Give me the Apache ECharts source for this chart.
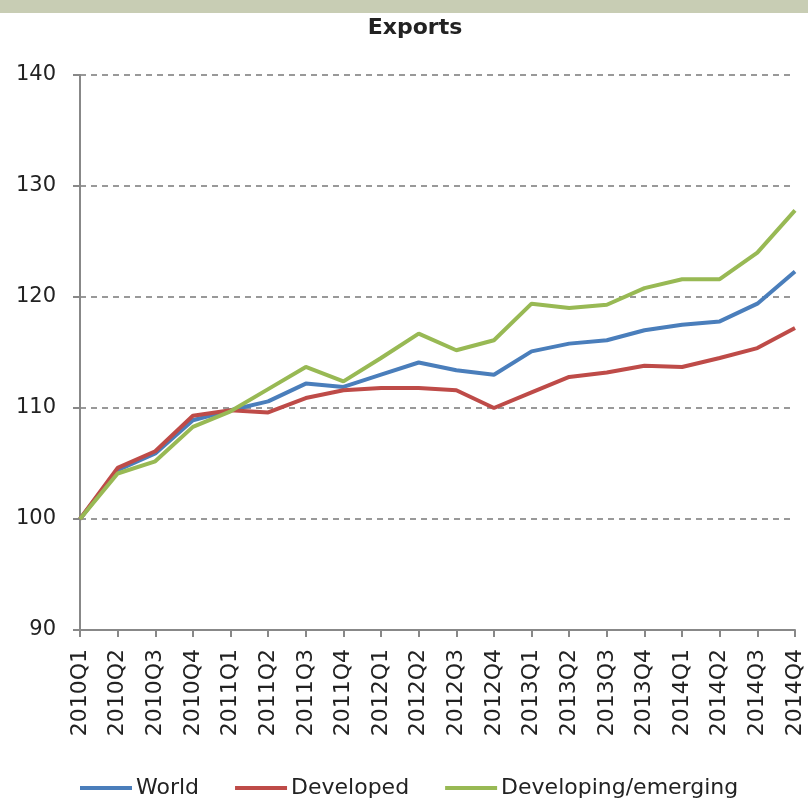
<!DOCTYPE html>
<html>
<head>
<meta charset="utf-8">
<script src="https://cdn.jsdelivr.net/npm/echarts@6/dist/echarts.min.js"></script>
<style>
  html, body { margin: 0; padding: 0; background: #fff; }
  #main { width: 808px; height: 807px; }
</style>
</head>
<body>
<div id="main"></div>
<script>
// quarters on the x axis
const quarters = [
  "2010Q1", "2010Q2", "2010Q3", "2010Q4",
  "2011Q1", "2011Q2", "2011Q3", "2011Q4",
  "2012Q1", "2012Q2", "2012Q3", "2012Q4",
  "2013Q1", "2013Q2", "2013Q3", "2013Q4",
  "2014Q1", "2014Q2", "2014Q3", "2014Q4"
];
// index, 2010Q1 = 100
const world = [100, 104.4, 105.9, 108.9, 109.8, 110.6, 112.2, 111.9, 113.0, 114.1, 113.4, 113.0, 115.1, 115.8, 116.1, 117.0, 117.5, 117.8, 119.4, 122.3];
const developed = [100, 104.6, 106.1, 109.3, 109.8, 109.6, 110.9, 111.6, 111.8, 111.8, 111.6, 110.0, 111.4, 112.8, 113.2, 113.8, 113.7, 114.5, 115.4, 117.2];
const developing = [100, 104.1, 105.2, 108.3, 109.7, 111.7, 113.7, 112.4, 114.5, 116.7, 115.2, 116.1, 119.4, 119.0, 119.3, 120.8, 121.6, 121.6, 124.0, 127.8];

const fontFam = "'DejaVu Sans', sans-serif";
let myChart = echarts.init(document.getElementById("main"));

function line(name, data, color) {
  return {
    name: name,
    type: "line",
    data: data,
    symbol: "none",
    lineStyle: { width: 4, color: color },
    itemStyle: { color: color }
  };
}

let option = {
  animation: false,
  backgroundColor: "#fff",
  graphic: [
    // top band
    { type: "rect", left: 0, top: 0, shape: { width: 808, height: 13 }, style: { fill: "#c8cdb4" } }
  ],
  title: {
    text: "Exports",
    left: 410,
    textAlign: "center",
    top: 12,
    textStyle: { fontFamily: fontFam, fontSize: 22, fontWeight: "bold", color: "#222" }
  },
  grid: { left: 80, right: 13, top: 75, bottom: 177 },
  legend: {
    top: 772,
    left: 75,
    itemGap: 36,
    itemWidth: 52,
    itemHeight: 4,
    icon: "rect",
    textStyle: { fontFamily: fontFam, fontSize: 22, color: "#222", padding: [0, 0, 0, -1] },
    data: ["World", "Developed", "Developing/emerging"]
  },
  xAxis: {
    type: "category",
    data: quarters,
    boundaryGap: false,
    axisLine: { lineStyle: { color: "#888", width: 2 } },
    axisTick: { show: true, inside: false, length: 7, alignWithLabel: true, lineStyle: { color: "#888", width: 2 } },
    axisLabel: {
      interval: 0,
      rotate: 90,
      margin: 19,
      fontFamily: fontFam,
      fontSize: 22,
      color: "#222"
    }
  },
  yAxis: {
    type: "value",
    min: 90,
    max: 140,
    interval: 10,
    axisLine: { show: true, lineStyle: { color: "#888", width: 2 } },
    axisTick: { show: true, length: 7, lineStyle: { color: "#888", width: 2 } },
    axisLabel: { fontFamily: fontFam, fontSize: 21, color: "#222", margin: 24 },
    splitLine: { show: true, lineStyle: { color: "#999", width: 2, type: [6, 5] } }
  },
  series: [
    line("World", world, "#4a7ebb"),
    line("Developed", developed, "#be4b48"),
    line("Developing/emerging", developing, "#98b954")
  ]
};
myChart.setOption(option);
</script>
</body>
</html>
